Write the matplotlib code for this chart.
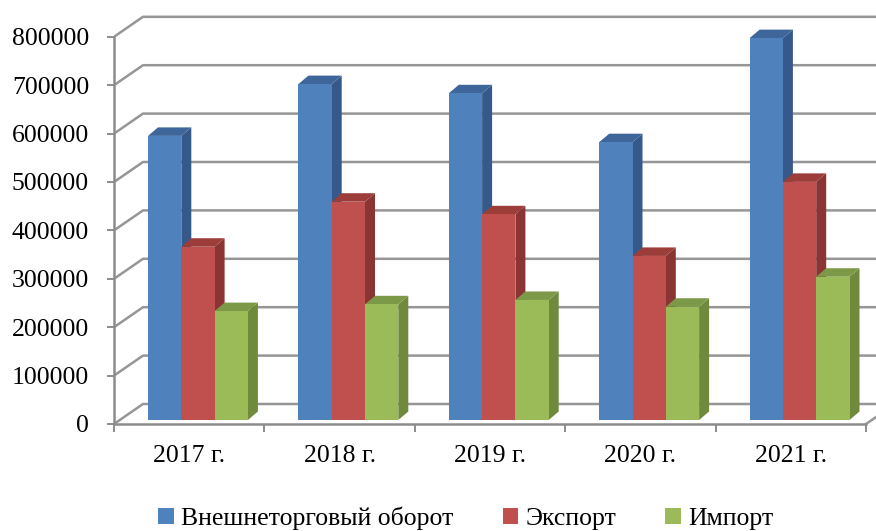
import matplotlib
matplotlib.use("Agg")
import matplotlib.pyplot as plt
from matplotlib.patches import Polygon, Patch

plt.rcParams['font.family'] = ['Liberation Serif', 'DejaVu Serif']

categories = ["2017 г.", "2018 г.", "2019 г.", "2020 г.", "2021 г."]
series_names = ["Внешнеторговый оборот", "Экспорт", "Импорт"]
turnover = [587000, 694000, 675000, 574000, 789000]
export = [358000, 451000, 425000, 339000, 492000]
imports = [225000, 239000, 248000, 234000, 296000]
yticks = [0, 100000, 200000, 300000, 400000, 500000, 600000, 700000, 800000]

front_colors = ["#4F81BD", "#C0504D", "#9BBB59"]
side_colors = ["#35598A", "#8A3533", "#6F8A3C"]
top_colors = ["#3E669A", "#9C3D3A", "#7C9947"]

W, H = 876, 531
fig = plt.figure(figsize=(W / 100, H / 100), dpi=100)

# pixel geometry of the plot box
x0px, cat_px = 114, 150.4
y0px, px_per_100k = 424, 48.4
ax = fig.add_axes([x0px / W, (H - y0px) / H, (W - x0px) / W, y0px / H])
ax.set_xlim(-0.5, -0.5 + (W - x0px) / cat_px)
ax.set_ylim(0, y0px / px_per_100k * 100000)
ax.patch.set_alpha(0)

def px_x(p):
    return p / cat_px

def px_y(p):
    return p / px_per_100k * 100000

# wall depth
dxw, dyw = px_x(29), px_y(20)
n = len(categories)
grid_c = "#969696"
for v in yticks:
    ax.plot([-0.5, -0.5 + dxw, n + 1], [v, v + dyw, v + dyw], color=grid_c,
            lw=1.8, zorder=1, solid_joinstyle='miter')
# floor right edge
ax.plot([n - 0.5, n - 0.5 + dxw], [0, dyw], color=grid_c, lw=1.8, zorder=1)

# bars
bw = px_x(33.3)
base = px_y(4)
ddx, ddy = px_x(10), px_y(8.5)
group_left = -px_x(41.2)
series = [turnover, export, imports]
for i in range(n):
    for s, vals in enumerate(series):
        xl = i + group_left + s * bw
        xr = xl + bw
        top = base + vals[i]
        ax.bar(xl, vals[i], width=bw, bottom=base, align='edge',
               color=front_colors[s], linewidth=0, zorder=3 + i * 10 + s * 3)
        ax.add_patch(Polygon([(xr, base), (xr, top), (xr + ddx, top + ddy),
                              (xr + ddx, base + ddy)], closed=True,
                             facecolor=side_colors[s], linewidth=0,
                             zorder=2 + i * 10 + s * 3))
        ax.add_patch(Polygon([(xl, top), (xr, top), (xr + ddx, top + ddy),
                              (xl + ddx, top + ddy)], closed=True,
                             facecolor=top_colors[s], linewidth=0,
                             zorder=2 + i * 10 + s * 3))

# axes
for sp in ['top', 'right']:
    ax.spines[sp].set_visible(False)
ax.spines['left'].set_bounds(0, 800000)
ax.spines['bottom'].set_bounds(-0.5, n - 0.5)
for sp in ['left', 'bottom']:
    ax.spines[sp].set_color("#8c8c8c")
    ax.spines[sp].set_linewidth(1.8)
    ax.spines[sp].set_zorder(2)

fs = 18.5
ax.set_yticks(yticks)
ax.set_yticklabels([str(v) for v in yticks], fontsize=fs)
ax.tick_params(axis='y', direction='out', length=5, width=1.4, color="#8c8c8c",
               pad=13)
ax.set_xticks(range(n))
ax.set_xticklabels(categories, fontsize=fs)
ax.set_xticks([i - 0.5 for i in range(n + 1)], minor=True)
ax.tick_params(axis='x', which='major', length=0, pad=15)
ax.tick_params(axis='x', which='minor', direction='out', length=5.5, width=1.4,
               color="#8c8c8c")

handles = [Patch(facecolor=c, edgecolor='none') for c in front_colors]
fig.legend(handles, series_names, loc='center', bbox_to_anchor=(466 / W, 1 - 518 / H),
           ncol=3, frameon=False, fontsize=fs, handlelength=0.6, handleheight=0.6,
           handletextpad=0.3, columnspacing=1.9, borderaxespad=0)

fig.savefig("out.png", dpi=100)
